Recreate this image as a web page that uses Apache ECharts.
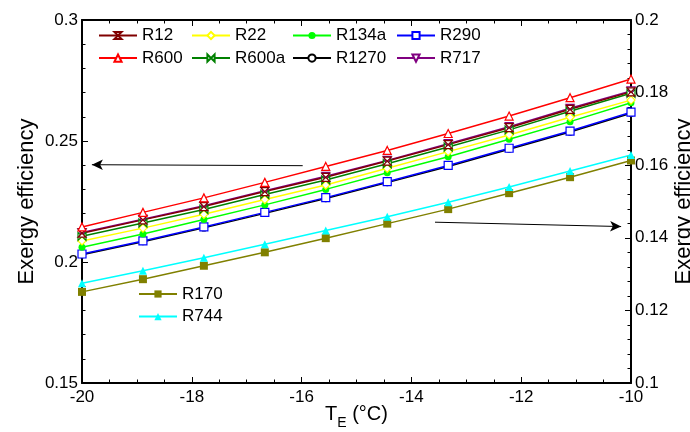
<!DOCTYPE html>
<html>
<head>
<meta charset="utf-8">
<script src="https://cdn.jsdelivr.net/npm/echarts@6/dist/echarts.min.js"></script>
<style>
  html, body { margin: 0; padding: 0; background: #fff; }
  #chart { width: 690px; height: 432px; }
</style>
</head>
<body>
<div id="chart"></div>
<script>
// Evaporating temperature (°C)
var temps = [-20, -18.89, -17.78, -16.67, -15.56, -14.44, -13.33, -12.22, -11.11, -10];

// Exergy efficiency, left axis
var r600  = [0.2145, 0.2205, 0.2265, 0.2329, 0.2395, 0.2461, 0.2531, 0.2603, 0.2679, 0.2756];
var r717  = [0.2122, 0.2177, 0.2233, 0.2294, 0.2354, 0.2420, 0.2489, 0.2559, 0.2635, 0.2707];
var r12   = [0.2119, 0.2174, 0.2229, 0.2291, 0.2350, 0.2417, 0.2485, 0.2555, 0.2631, 0.2703];
var r600a = [0.2106, 0.2161, 0.2217, 0.2279, 0.2339, 0.2406, 0.2475, 0.2546, 0.2623, 0.2697];
var r22   = [0.2087, 0.2140, 0.2197, 0.2258, 0.2318, 0.2387, 0.2456, 0.2525, 0.2598, 0.2669];
var r134a = [0.2061, 0.2116, 0.2176, 0.2236, 0.2300, 0.2369, 0.2435, 0.2507, 0.2580, 0.2658];
var r290  = [0.2033, 0.2087, 0.2145, 0.2205, 0.2266, 0.2332, 0.2399, 0.2470, 0.2541, 0.2619];
var r1270 = [0.2030, 0.2084, 0.2141, 0.2201, 0.2262, 0.2328, 0.2395, 0.2466, 0.2537, 0.2615];

// Exergy efficiency, right axis
var r170  = [0.1251, 0.1286, 0.1323, 0.1360, 0.1399, 0.1439, 0.1479, 0.1523, 0.1567, 0.1613];
var r744  = [0.1275, 0.1309, 0.1345, 0.1382, 0.1420, 0.1458, 0.1498, 0.1540, 0.1584, 0.1628];

// Arrows pointing each group to its axis: [start, end] in data units
var arrowLeft  = [[-15.98, 0.2398], [-19.82, 0.2402]];
var arrowRight = [[-13.57, 0.1443], [-10.18, 0.1431]];

var FONT = '"Liberation Sans", Arial, sans-serif';
var HOURGLASS = 'path://M0,0L10,0L0,10L10,10Z';

function pairs(ys) {
  return temps.map(function (t, i) { return [t, ys[i]]; });
}

function line(name, ys, color, symbol, opts) {
  opts = opts || {};
  var open = !!opts.open;
  return {
    name: name,
    type: 'line',
    yAxisIndex: opts.yAxisIndex || 0,
    data: pairs(ys),
    symbol: symbol,
    symbolSize: opts.size || 7,
    symbolRotate: opts.rotate || 0,
    showSymbol: true,
    color: color,
    lineStyle: { color: color, width: 1.5 },
    itemStyle: open
      ? { color: '#fff', borderColor: color, borderWidth: 1.2 }
      : { color: color, borderColor: color, borderWidth: 0 },
    emphasis: { disabled: true },
    animation: false,
    markLine: opts.markLine
  };
}

function arrow(seg) {
  return {
    silent: true,
    animation: false,
    symbol: ['none', 'arrow'],
    symbolSize: [8, 11],
    label: { show: false },
    lineStyle: { color: '#000', width: 1, type: 'solid' },
    data: [[{ coord: seg[0] }, { coord: seg[1] }]]
  };
}

function legendCol(left, top, names) {
  return {
    orient: 'vertical',
    left: left,
    top: top,
    itemWidth: 38,
    itemHeight: 9,
    itemGap: 5.6,
    padding: 0,
    selectedMode: false,
    textStyle: { fontFamily: FONT, fontSize: 17, color: '#000', lineHeight: 17 },
    data: names
  };
}

var axisFrame = { show: true, lineStyle: { color: '#000', width: 2 } };
var tickIn = { show: true, inside: true, length: 6, lineStyle: { color: '#000', width: 1 } };
var minorIn = function (n) {
  return { show: true, splitNumber: n, length: 3.5, lineStyle: { color: '#000', width: 1 } };
};

var option = {
  backgroundColor: '#fff',
  animation: false,
  grid: { left: 82, right: 59, top: 20, bottom: 49, containLabel: false, outerBoundsMode: 'none' },
  legend: [
    legendCol(98, 27, ['R12', 'R600']),
    legendCol(191, 27, ['R22', 'R600a']),
    legendCol(292, 27, ['R134a', 'R1270']),
    legendCol(396, 27, ['R290', 'R717']),
    legendCol(138, 285.5, ['R170', 'R744'])
  ],
  xAxis: [
    {
      type: 'value', position: 'bottom', min: -20, max: -10, interval: 2,
      axisLine: axisFrame, axisTick: tickIn, minorTick: minorIn(4),
      splitLine: { show: false },
      axisLabel: { fontFamily: FONT, fontSize: 17, color: '#000', margin: 6 },
      name: '{a|T}{b|E}{a| (°C)}',
      nameLocation: 'middle',
      nameMoveOverlap: false,
      nameGap: 21,
      nameTextStyle: {
        rich: {
          a: { fontFamily: FONT, fontSize: 20, color: '#000' },
          b: { fontFamily: FONT, fontSize: 14, color: '#000', verticalAlign: 'bottom', padding: [0, 0, -6, 0] }
        }
      }
    },
    {
      type: 'value', position: 'top', min: -20, max: -10, interval: 2,
      axisLine: axisFrame, axisTick: tickIn, minorTick: minorIn(4),
      splitLine: { show: false }, axisLabel: { show: false }
    }
  ],
  yAxis: [
    {
      type: 'value', position: 'left', min: 0.15, max: 0.3, interval: 0.05,
      axisLine: axisFrame, axisTick: tickIn, minorTick: minorIn(5),
      splitLine: { show: false },
      axisLabel: { fontFamily: FONT, fontSize: 17, color: '#000', margin: 4 },
      name: 'Exergy efficiency',
      nameLocation: 'middle',
      nameMoveOverlap: false,
      nameRotate: 90,
      nameGap: 44,
      nameTextStyle: { fontFamily: FONT, fontSize: 22, color: '#000' }
    },
    {
      type: 'value', position: 'right', min: 0.1, max: 0.2, interval: 0.02,
      axisLine: axisFrame, axisTick: tickIn, minorTick: minorIn(5),
      splitLine: { show: false },
      axisLabel: { fontFamily: FONT, fontSize: 17, color: '#000', margin: 4 },
      name: 'Exergy efficiency',
      nameLocation: 'middle',
      nameMoveOverlap: false,
      nameRotate: 90,
      nameGap: 42,
      nameTextStyle: { fontFamily: FONT, fontSize: 22, color: '#000' }
    }
  ],
  series: [
    line('R1270', r1270, '#000000', 'circle',   { open: true, size: 6 }),
    line('R290',  r290,  '#0000ff', 'rect',     { open: true, size: 8 }),
    line('R134a', r134a, '#00ff00', 'circle',   { size: 7 }),
    line('R22',   r22,   '#ffff00', 'diamond',  { open: true, size: 8 }),
    line('R600a', r600a, '#008000', HOURGLASS,  { open: true, size: 8, rotate: 90 }),
    line('R717',  r717,  '#800080', 'triangle', { open: true, size: 8, rotate: 180 }),
    line('R12',   r12,   '#800000', HOURGLASS,  { open: true, size: 8 }),
    line('R600',  r600,  '#ff0000', 'triangle', { open: true, size: 8, markLine: arrow(arrowLeft) }),
    line('R170',  r170,  '#808000', 'rect',     { yAxisIndex: 1, size: 8, markLine: arrow(arrowRight) }),
    line('R744',  r744,  '#00ffff', 'triangle', { yAxisIndex: 1, size: 8 })
  ]
};

var chart = echarts.init(document.getElementById('chart'), null, { renderer: 'canvas' });
chart.setOption(option);
</script>
</body>
</html>
